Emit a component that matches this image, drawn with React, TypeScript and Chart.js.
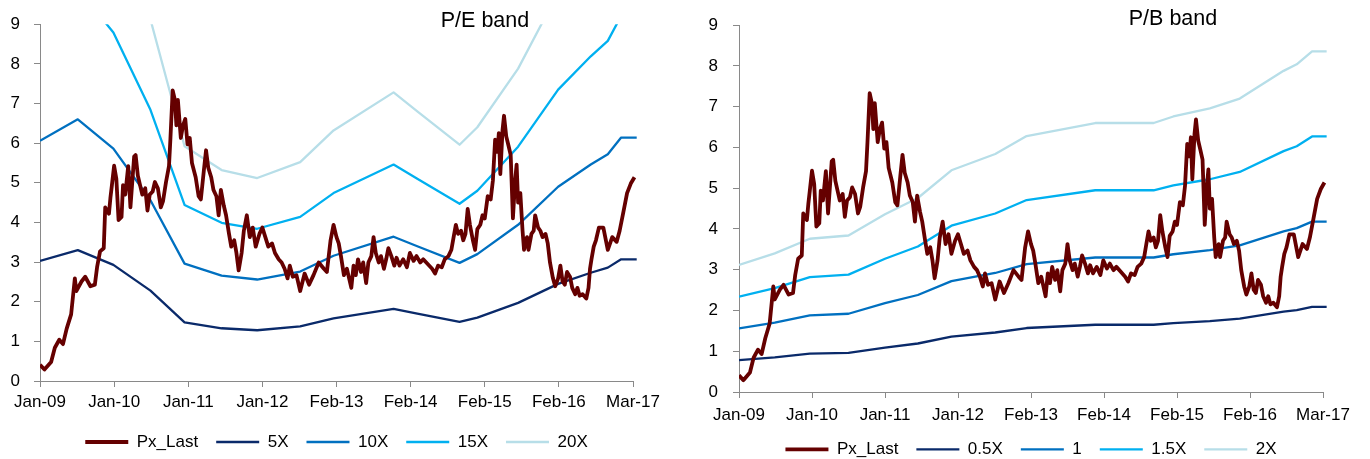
import { useEffect, useRef } from "react";
import { Chart, registerables } from "chart.js";
import type { Plugin } from "chart.js";

Chart.register(...registerables);

const FONT = "'Liberation Sans', Arial, sans-serif";
const AXIS_GREY = "#898989";

const tickLabels = ["Jan-09", "Jan-10", "Jan-11", "Jan-12", "Feb-13", "Feb-14", "Feb-15", "Feb-16", "Mar-17"];

// position on the date axis (0 = Jan-09 ... 8 = Mar-17) and closing price
const pxT = [
  0, 0.06, 0.15, 0.2, 0.26, 0.31, 0.36, 0.42, 0.47, 0.49,
  0.56, 0.61, 0.68, 0.74, 0.77, 0.81, 0.86, 0.88, 0.93, 0.95,
  0.97, 1.0, 1.03, 1.06, 1.1, 1.12, 1.15, 1.19, 1.22, 1.27,
  1.29, 1.32, 1.35, 1.38, 1.42, 1.45, 1.48, 1.52, 1.55, 1.59,
  1.63, 1.66, 1.7, 1.74, 1.76, 1.79, 1.82, 1.84, 1.86, 1.9,
  1.93, 1.96, 1.99, 2.02, 2.05, 2.1, 2.14, 2.17, 2.21, 2.24,
  2.27, 2.31, 2.34, 2.38, 2.41, 2.44, 2.48, 2.51, 2.55, 2.58,
  2.62, 2.65, 2.68, 2.72, 2.75, 2.79, 2.83, 2.87, 2.91, 2.96,
  3.0, 3.04, 3.08, 3.13, 3.17, 3.22, 3.26, 3.3, 3.34, 3.37,
  3.41, 3.46, 3.51, 3.57, 3.63, 3.69, 3.76, 3.83, 3.87, 3.92,
  3.96, 4.0, 4.03, 4.06, 4.1, 4.14, 4.17, 4.2, 4.23, 4.26,
  4.29, 4.33, 4.36, 4.4, 4.43, 4.47, 4.5, 4.53, 4.57, 4.6,
  4.64, 4.67, 4.7, 4.74, 4.78, 4.81, 4.85, 4.9, 4.95, 4.99,
  5.04, 5.08, 5.13, 5.17, 5.23, 5.29, 5.33, 5.37, 5.42, 5.46,
  5.51, 5.55, 5.58, 5.61, 5.64, 5.68, 5.71, 5.74, 5.77, 5.8,
  5.84, 5.87, 5.9, 5.94, 5.97, 6.0, 6.04, 6.08, 6.11, 6.14,
  6.17, 6.19, 6.21, 6.24, 6.26, 6.29, 6.32, 6.35, 6.38, 6.41,
  6.43, 6.45, 6.48, 6.51, 6.53, 6.57, 6.59, 6.63, 6.66, 6.68,
  6.72, 6.75, 6.78, 6.82, 6.85, 6.88, 6.92, 6.95, 6.99, 7.02,
  7.05, 7.08, 7.11, 7.15, 7.18, 7.22, 7.25, 7.28, 7.32, 7.37,
  7.4, 7.42, 7.44, 7.47, 7.5, 7.54, 7.6, 7.66, 7.72, 7.78,
  7.82, 7.87, 7.92, 7.97, 8.02, 8.05,
];
const pxLast = [
  0.41, 0.29, 0.48, 0.84, 1.04, 0.93, 1.32, 1.68, 2.59, 2.27,
  2.51, 2.63, 2.39, 2.43, 2.87, 3.27, 3.35, 4.38, 4.22, 4.62,
  4.94, 5.43, 5.1, 4.06, 4.14, 4.94, 4.7, 5.42, 4.38, 5.66,
  5.7, 5.18, 4.94, 4.7, 4.86, 4.3, 4.7, 4.78, 5.02, 4.86,
  4.38, 4.54, 5.02, 5.42, 6.13, 7.33, 7.09, 6.45, 7.09, 6.13,
  6.45, 6.61, 5.97, 6.13, 5.5, 5.14, 4.66, 4.58, 5.3, 5.82,
  5.38, 5.14, 4.82, 4.66, 4.18, 4.82, 4.42, 4.18, 3.71, 3.39,
  3.55, 3.23, 2.79, 3.23, 3.79, 4.18, 3.63, 3.87, 3.39, 3.71,
  3.87, 3.63, 3.39, 3.47, 3.23, 3.07, 2.99, 2.83, 2.59, 2.91,
  2.63, 2.67, 2.27, 2.71, 2.43, 2.67, 2.99, 2.83, 2.75, 3.55,
  3.94, 3.63, 3.47, 3.15, 2.67, 2.83, 2.59, 2.35, 2.91, 2.67,
  3.07, 2.75, 2.99, 2.47, 2.99, 3.15, 3.63, 3.23, 2.99, 3.15,
  2.83, 3.07, 3.35, 3.15, 2.91, 3.11, 2.91, 3.07, 2.87, 3.23,
  3.03, 3.15, 2.99, 3.07, 2.95, 2.83, 2.71, 2.91, 2.87, 3.07,
  3.15, 3.31, 3.63, 3.94, 3.71, 3.79, 3.55, 3.71, 4.34, 3.94,
  3.55, 3.31, 3.83, 3.94, 4.18, 4.1, 4.66, 4.58, 5.06, 6.09,
  5.78, 6.25, 5.22, 6.33, 6.69, 6.17, 5.94, 5.7, 4.1, 5.06,
  5.46, 4.5, 4.74, 3.79, 3.31, 3.63, 3.31, 3.71, 3.79, 4.18,
  3.87, 3.79, 3.63, 3.71, 3.47, 2.99, 2.59, 2.39, 2.59, 2.91,
  2.51, 2.43, 2.75, 2.63, 2.35, 2.19, 2.35, 2.15, 2.19, 2.08,
  2.35, 2.83, 3.07, 3.39, 3.55, 3.87, 3.87, 3.31, 3.63, 3.51,
  3.79, 4.26, 4.74, 4.98, 5.14, 5.3,
];

// P/E band
const peT = [0, 0.51, 0.99, 1.49, 1.95, 2.45, 2.93, 3.51, 3.96, 4.77, 5.09, 5.66, 5.9, 6.45, 6.99, 7.43, 7.66, 7.84, 8.05];
const pe5x = [3.03, 3.3, 2.93, 2.28, 1.48, 1.33, 1.28, 1.38, 1.58, 1.82, 1.7, 1.49, 1.6, 1.97, 2.45, 2.73, 2.86, 3.07, 3.07];
const pe10x = [6.06, 6.6, 5.86, 4.56, 2.96, 2.66, 2.56, 2.76, 3.16, 3.64, 3.4, 2.98, 3.2, 3.94, 4.9, 5.46, 5.72, 6.14, 6.14];
const pe15x = [9.09, 9.9, 8.79, 6.84, 4.44, 3.99, 3.84, 4.14, 4.74, 5.46, 5.1, 4.47, 4.8, 5.91, 7.35, 8.19, 8.58, 9.21, 9.21];
const pe20x = [12.12, 13.2, 11.72, 9.12, 5.92, 5.32, 5.12, 5.52, 6.32, 7.28, 6.8, 5.96, 6.4, 7.88, 9.8, 10.92, 11.44, 12.28, 12.28];

// P/B band
const pbT = [0, 0.49, 0.97, 1.5, 2.0, 2.45, 2.91, 3.51, 3.94, 4.88, 5.68, 5.95, 6.45, 6.86, 7.46, 7.64, 7.85, 8.05];
const pb05x = [0.78, 0.85, 0.94, 0.96, 1.09, 1.19, 1.36, 1.46, 1.57, 1.65, 1.65, 1.69, 1.74, 1.8, 1.97, 2.01, 2.09, 2.09];
const pb1x = [1.56, 1.7, 1.88, 1.92, 2.18, 2.38, 2.72, 2.92, 3.14, 3.3, 3.3, 3.38, 3.48, 3.6, 3.94, 4.02, 4.18, 4.18];
const pb15x = [2.34, 2.55, 2.82, 2.88, 3.27, 3.57, 4.08, 4.38, 4.71, 4.95, 4.95, 5.07, 5.22, 5.4, 5.91, 6.03, 6.27, 6.27];
const pb2x = [3.12, 3.4, 3.76, 3.84, 4.36, 4.76, 5.44, 5.84, 6.28, 6.6, 6.6, 6.76, 6.96, 7.2, 7.88, 8.04, 8.36, 8.36];

const PX_COLOR = "#650000";
const BAND_COLORS = ["#0A2A6A", "#0070C0", "#00B0F0", "#B7DEE8"];

interface Band {
  label: string;
  values: number[];
}

interface Props {
  title: string;
  bandT: number[];
  bands: Band[];
  left: number;
  height: number;
  padTop: number;
  padBottom: number;
  yWidth: number;
  xHeight: number;
  yPad: number;
  xPad: number;
  titleX: number;
  titleY: number;
}

const toPts = (t: number[], v: number[]) => t.map((x, i) => ({ x, y: v[i] }));

function BandChart(p: Props) {
  const ref = useRef<HTMLCanvasElement | null>(null);

  useEffect(() => {
    if (!ref.current) return;
    const titlePlugin: Plugin<"line"> = {
      id: "bandTitle",
      afterDraw(chart) {
        const ctx = chart.ctx;
        ctx.save();
        ctx.font = `21.5px ${FONT}`;
        ctx.fillStyle = "#000";
        ctx.textAlign = "center";
        ctx.textBaseline = "middle";
        ctx.fillText(p.title, p.titleX, p.titleY);
        ctx.restore();
      },
    };
    const clip = { left: 0, top: 0, right: 8, bottom: 0 };
    const chart = new Chart(ref.current, {
      type: "line",
      data: {
        datasets: [
          {
            label: "Px_Last",
            data: toPts(pxT, pxLast),
            borderColor: PX_COLOR,
            backgroundColor: PX_COLOR,
            borderWidth: 3.8,
            clip,
          },
          ...p.bands.map((b, i) => ({
            label: b.label,
            data: toPts(p.bandT, b.values),
            borderColor: BAND_COLORS[i],
            backgroundColor: BAND_COLORS[i],
            borderWidth: 2.3,
            clip,
          })),
        ],
      },
      options: {
        animation: false,
        responsive: true,
        maintainAspectRatio: false,
        elements: {
          point: { radius: 0, hoverRadius: 0 },
          line: { tension: 0, borderJoinStyle: "round" },
        },
        layout: { padding: { left: 0, right: 47, top: p.padTop, bottom: p.padBottom } },
        plugins: {
          tooltip: { enabled: false },
          legend: {
            position: "bottom",
            fullSize: false,
            labels: {
              usePointStyle: true,
              pointStyle: "line",
              pointStyleWidth: 43,
              padding: 18,
              color: "#000",
              font: { family: FONT, size: 17 },
            },
          },
        },
        scales: {
          x: {
            type: "linear",
            min: 0,
            max: 8,
            afterFit: (s) => {
              s.height = p.xHeight;
            },
            border: { display: true, color: AXIS_GREY, width: 1 },
            grid: { drawOnChartArea: false, drawTicks: true, tickLength: 6, color: AXIS_GREY },
            ticks: {
              stepSize: 1,
              autoSkip: false,
              maxRotation: 0,
              padding: p.xPad,
              color: "#000",
              font: { family: FONT, size: 17 },
              callback: (v) => tickLabels[Number(v)] ?? "",
            },
          },
          y: {
            min: 0,
            max: 9,
            afterFit: (s) => {
              s.width = p.yWidth;
            },
            border: { display: true, color: AXIS_GREY, width: 1 },
            grid: { drawOnChartArea: false, drawTicks: true, tickLength: 6, color: AXIS_GREY },
            ticks: {
              stepSize: 1,
              padding: p.yPad,
              color: "#000",
              font: { family: FONT, size: 17 },
            },
          },
        },
      },
      plugins: [titlePlugin],
    });
    return () => {
      chart.destroy();
    };
  }, [p]);

  return (
    <div style={{ position: "absolute", left: p.left, top: 0, width: 680, height: p.height }}>
      <canvas ref={ref} aria-label={p.title} />
    </div>
  );
}

const peBands: Band[] = [
  { label: "5X", values: pe5x },
  { label: "10X", values: pe10x },
  { label: "15X", values: pe15x },
  { label: "20X", values: pe20x },
];

const pbBands: Band[] = [
  { label: "0.5X", values: pb05x },
  { label: "1", values: pb1x },
  { label: "1.5X", values: pb15x },
  { label: "2X", values: pb2x },
];

export default function App() {
  return (
    <div
      style={{
        position: "fixed",
        left: 0,
        top: 0,
        width: 1370,
        height: 459,
        overflow: "hidden",
        background: "#fff",
      }}
    >
      <BandChart
        title="P/E band"
        bandT={peT}
        bands={peBands}
        left={0}
        height={463}
        padTop={22}
        padBottom={2.5}
        yWidth={40}
        xHeight={34.5}
        yPad={14}
        xPad={5}
        titleX={485}
        titleY={21}
      />
      <BandChart
        title="P/B band"
        bandT={pbT}
        bands={pbBands}
        left={690}
        height={469}
        padTop={15}
        padBottom={1.2}
        yWidth={49}
        xHeight={30.8}
        yPad={15}
        xPad={7}
        titleX={483}
        titleY={19}
      />
    </div>
  );
}
